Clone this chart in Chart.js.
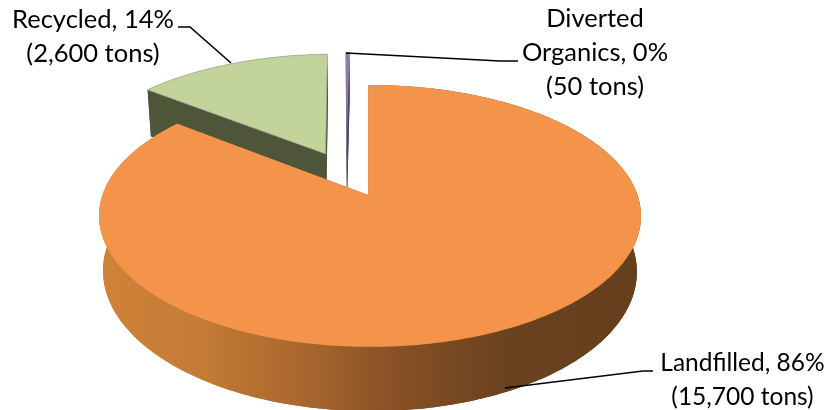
<!DOCTYPE html>
<html>
<head>
<meta charset="utf-8">
<style>
  html, body { margin: 0; padding: 0; background: #fff; }
  #wrap { width: 828px; height: 410px; }
</style>
<script src="https://cdn.jsdelivr.net/npm/chart.js@4"></script>
</head>
<body>
<div id="wrap"><canvas id="pieChart" width="828" height="410"></canvas></div>
<script>
// data
const categories = ['Landfilled', 'Recycled', 'Diverted Organics'];
const tons = [15700, 2600, 50];
const topColors = ['#f3944a', '#c3d49b', '#9079b0'];
const wallColors = [null, '#4f5539', '#4a4458'];

// text lines of each label, split where the reference wraps them
const labelBreaks = [['Landfilled'], ['Recycled'], ['Diverted', 'Organics']];
const labelAnchors = [
    { x: 742.5, y: 363, size: 24.5 },
    { x: 93, y: 20, size: 25.5 },
    { x: 595, y: 19, size: 25.5 }
];
const leaders = [
    [[505, 388], [643, 371], [653, 371]],
    [[178, 27], [190, 27], [231, 63]],
    [[346, 53], [500, 61], [518, 61]]
];

// camera of the tilted pie, screen numbers fitted from the reference
const cam = { x0: 368, y0: 195, a: 267.5, b: 127.6, k: 0.16, m: 0.007, ox: -0.083, oy: -0.171, depth: 54, shrink: 0.985 };

function project(u, v, lower) {
    const pu = u + cam.ox;
    const pv = v + cam.oy;
    const w = 1 - cam.k * pv - cam.m * pu;
    let x = cam.x0 + cam.a * pu / w;
    let y = cam.y0 + cam.b * pv / w;
    if (lower) {
        x = cam.x0 + (x - cam.x0) * cam.shrink;
        y += cam.depth / w;
    }
    return { x, y };
}

function fillPoly(ctx, pts, fill, stroke) {
    ctx.beginPath();
    pts.forEach((p, i) => i ? ctx.lineTo(p.x, p.y) : ctx.moveTo(p.x, p.y));
    ctx.closePath();
    ctx.fillStyle = fill;
    ctx.fill();
    if (stroke) {
        ctx.strokeStyle = stroke;
        ctx.lineWidth = 1;
        ctx.stroke();
    }
}

function orangeWall(ctx) {
    const g = ctx.createLinearGradient(100, 0, 640, 0);
    g.addColorStop(0, '#d08339');
    g.addColorStop(0.2, '#c27a35');
    g.addColorStop(0.4, '#a4642c');
    g.addColorStop(0.55, '#875025');
    g.addColorStop(0.75, '#6a421f');
    g.addColorStop(1, '#663f1c');
    return g;
}

const tiltedPie = {
    id: 'tiltedPie',
    beforeDatasetDraw(chart) {
        const ctx = chart.ctx;
        const arcs = chart.getDatasetMeta(0).data.map((arc, index) => ({ arc, index }));
        const mid = a => (a.arc.startAngle + a.arc.endAngle) / 2;
        arcs.sort((p, q) => Math.sin(mid(p)) - Math.sin(mid(q)));

        arcs.forEach(item => {
            const arc = item.arc;
            const off = arc.options.offset / arc.outerRadius;
            const cu = Math.cos(mid(item)) * off;
            const cv = Math.sin(mid(item)) * off;
            const steps = Math.max(2, Math.ceil((arc.endAngle - arc.startAngle) * 60));
            const rim = lower => {
                const pts = [];
                for (let i = 0; i <= steps; i++) {
                    const t = arc.startAngle + (arc.endAngle - arc.startAngle) * i / steps;
                    pts.push(project(cu + Math.cos(t), cv + Math.sin(t), lower));
                }
                return pts;
            };
            const topRim = rim(false);
            const baseRim = rim(true);
            const apexTop = project(cu, cv, false);
            const apexBase = project(cu, cv, true);
            const wall = wallColors[item.index] || orangeWall(ctx);

            fillPoly(ctx, [apexBase, ...baseRim], wall);
            fillPoly(ctx, [...topRim, ...baseRim.slice().reverse()], wall);
            fillPoly(ctx, [apexTop, topRim[0], baseRim[0], apexBase], wall);
            fillPoly(ctx, [apexTop, topRim[steps], baseRim[steps], apexBase], wall);
            fillPoly(ctx, [apexTop, ...topRim], topColors[item.index], item.index === 1 ? 'rgba(170,175,165,0.8)' : null);
        });
        return false;
    },
    afterDraw(chart) {
        const ctx = chart.ctx;
        const total = tons.reduce((s, v) => s + v, 0);
        ctx.save();
        ctx.strokeStyle = '#000';
        ctx.lineWidth = 1.6;
        leaders.forEach(line => {
            ctx.beginPath();
            line.forEach((p, i) => i ? ctx.lineTo(p[0], p[1]) : ctx.moveTo(p[0], p[1]));
            ctx.stroke();
        });
        ctx.fillStyle = '#000';
        ctx.textAlign = 'center';
        ctx.textBaseline = 'middle';
        categories.forEach((name, i) => {
            const lines = labelBreaks[i].slice();
            const pct = Math.round(tons[i] / total * 100);
            lines[lines.length - 1] += ', ' + pct + '%';
            lines.push('(' + tons[i].toLocaleString('en-US') + ' tons)');
            ctx.font = labelAnchors[i].size + 'px Lato';
            lines.forEach((text, n) => ctx.fillText(text, labelAnchors[i].x, labelAnchors[i].y + n * 34));
        });
        ctx.restore();
    }
};

new Chart(document.getElementById('pieChart'), {
    type: 'pie',
    data: {
        labels: categories,
        datasets: [{
            data: tons,
            backgroundColor: topColors,
            borderWidth: 0,
            offset: 30.4
        }]
    },
    options: {
        responsive: false,
        animation: false,
        radius: 160,
        plugins: { legend: { display: false }, tooltip: { enabled: false } }
    },
    plugins: [tiltedPie]
});
</script>
</body>
</html>
